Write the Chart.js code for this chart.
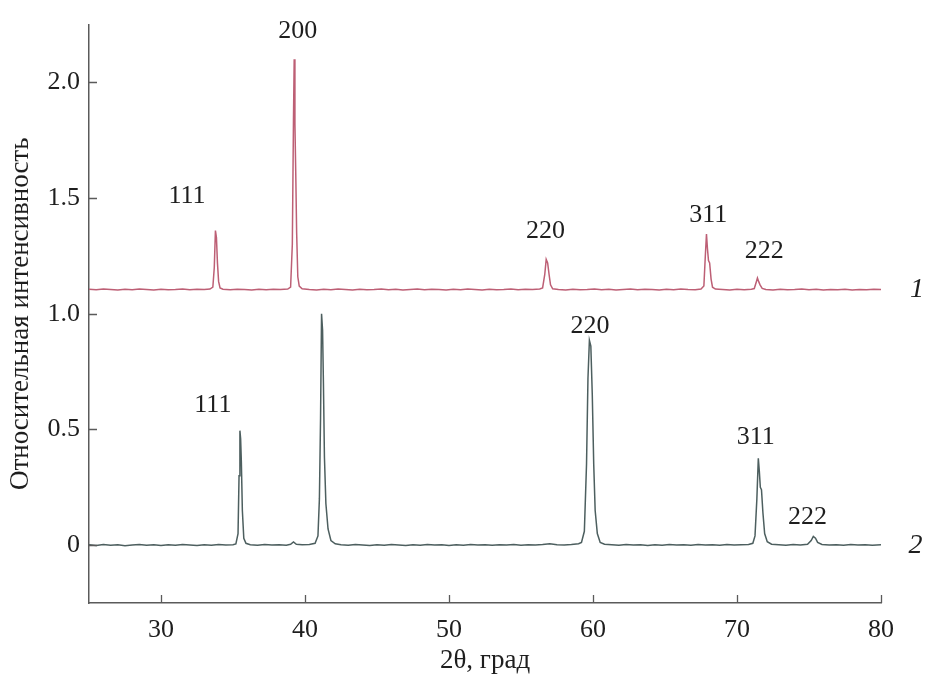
<!DOCTYPE html>
<html>
<head>
<meta charset="utf-8">
<script src="https://cdn.jsdelivr.net/npm/chart.js@4.4.0/dist/chart.umd.min.js"></script>
<style>
  body { margin: 0; background: #fff; }
  #wrap { width: 925px; height: 674px; }
</style>
</head>
<body>
<div id="wrap"><canvas id="myChart"></canvas></div>
<script>
// curve 1 (upper, pink): [2theta, intensity]
var curve1 = [
  [25.0,1.106],[25.5,1.104],[26.0,1.107],[26.5,1.105],[27.0,1.103],[27.5,1.106],[28.0,1.104],[28.5,1.107],
  [29.0,1.105],[29.5,1.103],[30.0,1.106],[30.5,1.104],[31.0,1.105],[31.5,1.107],[32.0,1.104],[32.5,1.106],
  [33.0,1.105],[33.4,1.107],[33.6,1.115],[33.7,1.2],[33.78,1.36],[33.85,1.33],[33.92,1.22],[34.0,1.14],
  [34.1,1.112],[34.3,1.106],[34.8,1.104],[35.3,1.106],[35.8,1.105],[36.3,1.103],[36.8,1.106],[37.3,1.104],
  [37.8,1.106],[38.3,1.105],[38.8,1.107],[39.0,1.115],[39.12,1.3],[39.2,1.84],[39.25,2.1],[39.3,1.82],
  [39.36,1.6],[39.42,1.35],[39.5,1.16],[39.6,1.12],[39.8,1.108],[40.3,1.105],[40.8,1.103],[41.3,1.106],
  [41.8,1.104],[42.3,1.107],[42.8,1.105],[43.3,1.103],[43.8,1.106],[44.3,1.104],[44.8,1.105],[45.3,1.107],
  [45.8,1.104],[46.3,1.106],[46.8,1.103],[47.3,1.105],[47.8,1.107],[48.3,1.104],[48.8,1.106],[49.3,1.105],
  [49.8,1.103],[50.3,1.106],[50.8,1.104],[51.3,1.107],[51.8,1.105],[52.3,1.103],[52.8,1.106],[53.3,1.104],
  [53.8,1.105],[54.3,1.107],[54.8,1.104],[55.3,1.106],[55.8,1.105],[56.3,1.107],[56.5,1.112],[56.65,1.17],
  [56.75,1.235],[56.85,1.22],[56.95,1.17],[57.05,1.125],[57.2,1.108],[57.6,1.105],[58.1,1.103],[58.6,1.106],
  [59.1,1.104],[59.6,1.105],[60.1,1.107],[60.6,1.104],[61.1,1.106],[61.6,1.103],[62.1,1.105],[62.6,1.107],
  [63.1,1.104],[63.6,1.106],[64.1,1.105],[64.6,1.103],[65.1,1.106],[65.6,1.104],[66.1,1.107],[66.6,1.105],
  [67.1,1.104],[67.5,1.107],[67.7,1.12],[67.8,1.25],[67.88,1.345],[67.95,1.28],[68.02,1.23],[68.1,1.22],
  [68.2,1.15],[68.3,1.115],[68.5,1.107],[69.0,1.105],[69.5,1.103],[70.0,1.106],[70.5,1.104],[71.0,1.106],
  [71.2,1.109],[71.35,1.14],[71.42,1.155],[71.5,1.14],[71.6,1.125],[71.75,1.11],[72.0,1.105],[72.5,1.103],
  [73.0,1.106],[73.5,1.104],[74.0,1.105],[74.5,1.107],[75.0,1.104],[75.5,1.106],[76.0,1.103],[76.5,1.105],
  [77.0,1.104],[77.5,1.106],[78.0,1.103],[78.5,1.105],[79.0,1.104],[79.5,1.106],[80.0,1.105]
];

// curve 2 (lower, grey)
var curve2 = [
  [25.0,0.002],[25.5,-0.001],[26.0,0.003],[26.5,0.0],[27.0,0.002],[27.5,-0.002],[28.0,0.001],[28.5,0.003],
  [29.0,0.0],[29.5,0.002],[30.0,-0.001],[30.5,0.002],[31.0,0.0],[31.5,0.003],[32.0,0.001],[32.5,-0.001],
  [33.0,0.002],[33.5,0.0],[34.0,0.003],[34.5,0.001],[35.0,0.002],[35.2,0.005],[35.35,0.05],[35.42,0.3],
  [35.48,0.495],[35.53,0.46],[35.58,0.36],[35.65,0.15],[35.75,0.03],[35.9,0.008],[36.2,0.002],[36.7,0.0],
  [37.2,0.003],[37.7,0.001],[38.2,0.002],[38.7,0.0],[39.0,0.004],[39.2,0.014],[39.4,0.004],[39.8,0.002],
  [40.3,0.003],[40.7,0.008],[40.9,0.04],[41.0,0.2],[41.08,0.55],[41.15,1.0],[41.22,0.93],[41.28,0.7],
  [41.35,0.38],[41.45,0.18],[41.6,0.07],[41.8,0.02],[42.1,0.006],[42.5,0.002],[43.0,0.0],[43.5,0.003],
  [44.0,0.001],[44.5,-0.001],[45.0,0.002],[45.5,0.0],[46.0,0.003],[46.5,0.001],[47.0,-0.001],[47.5,0.002],
  [48.0,0.0],[48.5,0.003],[49.0,0.001],[49.5,0.002],[50.0,-0.001],[50.5,0.002],[51.0,0.0],[51.5,0.003],
  [52.0,0.001],[52.5,0.002],[53.0,0.0],[53.5,0.002],[54.0,0.001],[54.5,0.003],[55.0,0.0],[55.5,0.002],
  [56.0,0.001],[56.5,0.003],[57.0,0.006],[57.5,0.002],[58.0,0.001],[58.5,0.003],[59.0,0.006],[59.2,0.012],
  [59.4,0.06],[59.55,0.35],[59.65,0.72],[59.75,0.885],[59.85,0.86],[59.95,0.65],[60.05,0.35],[60.15,0.15],
  [60.3,0.05],[60.5,0.012],[60.8,0.004],[61.3,0.002],[61.8,0.0],[62.3,0.003],[62.8,0.001],[63.3,0.002],
  [63.8,-0.001],[64.3,0.002],[64.8,0.0],[65.3,0.003],[65.8,0.001],[66.3,0.002],[66.8,0.0],[67.3,0.003],
  [67.8,0.001],[68.3,0.002],[68.8,0.0],[69.3,0.003],[69.8,0.001],[70.3,0.002],[70.8,0.003],[71.1,0.008],
  [71.25,0.04],[71.38,0.2],[71.48,0.375],[71.55,0.32],[71.62,0.25],[71.7,0.24],[71.8,0.14],[71.92,0.05],
  [72.1,0.015],[72.4,0.004],[72.9,0.002],[73.4,0.0],[73.9,0.003],[74.4,0.001],[74.9,0.004],[75.15,0.02],
  [75.3,0.038],[75.45,0.03],[75.6,0.012],[75.9,0.003],[76.4,0.001],[76.9,0.002],[77.4,0.0],[77.9,0.003],
  [78.4,0.001],[78.9,0.002],[79.4,0.0],[80.0,0.002]
];

// reflex labels: [text, 2theta, intensity]
var peaks1 = [['111',31.8,1.51],['200',39.5,2.22],['220',56.7,1.355],['311',68.0,1.425],['222',71.9,1.27]];
var peaks2 = [['111',33.6,0.605],['220',59.8,0.945],['311',71.3,0.465],['222',74.9,0.12]];
var curveNames = [['1',82.5,1.105],['2',82.4,0.0]];

var xTicks = [30, 40, 50, 60, 70, 80];
var yTicks = [0, 0.5, 1.0, 1.5, 2.0];

var serif = "'Liberation Serif', 'DejaVu Serif', serif";
var axisColor = '#5a5a5a';
var textColor = '#1e1e1e';

function toPoints(arr) {
    return arr.map(function(p){ return {x: p[0], y: p[1]}; });
}

var extras = {
    id: 'extras',
    afterDraw: function(chart) {
        var ctx = chart.ctx;
        var xs = chart.scales.x, ys = chart.scales.y;
        var area = chart.chartArea;
        ctx.save();
        // inward tick marks
        ctx.strokeStyle = axisColor;
        ctx.lineWidth = 1.3;
        ctx.beginPath();
        xTicks.forEach(function(v){
            var px = Math.round(xs.getPixelForValue(v)) + 0.5;
            ctx.moveTo(px, area.bottom);
            ctx.lineTo(px, area.bottom - 8);
        });
        yTicks.forEach(function(v){
            var py = Math.round(ys.getPixelForValue(v)) + 0.5;
            ctx.moveTo(area.left, py);
            ctx.lineTo(area.left + 8, py);
        });
        ctx.stroke();
        // reflex labels
        ctx.fillStyle = textColor;
        ctx.textAlign = 'center';
        ctx.textBaseline = 'middle';
        ctx.font = '26px ' + serif;
        peaks1.concat(peaks2).forEach(function(p){
            ctx.fillText(p[0], xs.getPixelForValue(p[1]), ys.getPixelForValue(p[2]));
        });
        ctx.font = 'italic 28px ' + serif;
        curveNames.forEach(function(p){
            ctx.fillText(p[0], xs.getPixelForValue(p[1]), ys.getPixelForValue(p[2]));
        });
        ctx.restore();
    }
};

var ctx = 'myChart';
var xrdChart = new Chart(ctx, {
    type: 'line',
    data: {
        datasets: [
            {
                label: '1',
                data: toPoints(curve1),
                borderColor: '#bd5f75',
                borderWidth: 1.5,
                pointRadius: 0,
                tension: 0,
                fill: false
            },
            {
                label: '2',
                data: toPoints(curve2),
                borderColor: '#4d5f5f',
                borderWidth: 1.5,
                pointRadius: 0,
                tension: 0,
                fill: false
            }
        ]
    },
    options: {
        responsive: true,
        maintainAspectRatio: false,
        animation: false,
        layout: { padding: { top: 16, right: 44, left: 0, bottom: 0 } },
        plugins: {
            legend: { display: false },
            tooltip: { enabled: false }
        },
        scales: {
            x: {
                type: 'linear',
                min: 25,
                max: 80,
                afterBuildTicks: function(scale) {
                    scale.ticks = xTicks.map(function(v){ return {value: v}; });
                },
                afterFit: function(scale) { scale.height = 71; },
                grid: { display: false, drawTicks: false },
                border: { display: true, color: axisColor, width: 1.5 },
                ticks: {
                    color: textColor,
                    font: { family: serif, size: 26 },
                    padding: 12,
                    maxRotation: 0
                },
                title: {
                    display: true,
                    text: '2θ, град',
                    color: textColor,
                    font: { family: serif, size: 27, lineHeight: 1.0 },
                    padding: { top: 0, bottom: 0 }
                }
            },
            y: {
                type: 'linear',
                min: -0.25,
                max: 2.25,
                afterBuildTicks: function(scale) {
                    scale.ticks = yTicks.map(function(v){ return {value: v}; });
                },
                afterFit: function(scale) { scale.width = 89; },
                grid: { display: false, drawTicks: false },
                border: { display: true, color: axisColor, width: 1.5 },
                ticks: {
                    color: textColor,
                    font: { family: serif, size: 26 },
                    padding: 9,
                    callback: function(v) { return v === 0 ? '0' : v.toFixed(1); }
                },
                title: {
                    display: true,
                    text: 'Относительная интенсивность',
                    color: textColor,
                    font: { family: serif, size: 27 },
                    padding: { top: 5, bottom: 0 }
                }
            }
        }
    },
    plugins: [extras]
});
</script>
</body>
</html>
